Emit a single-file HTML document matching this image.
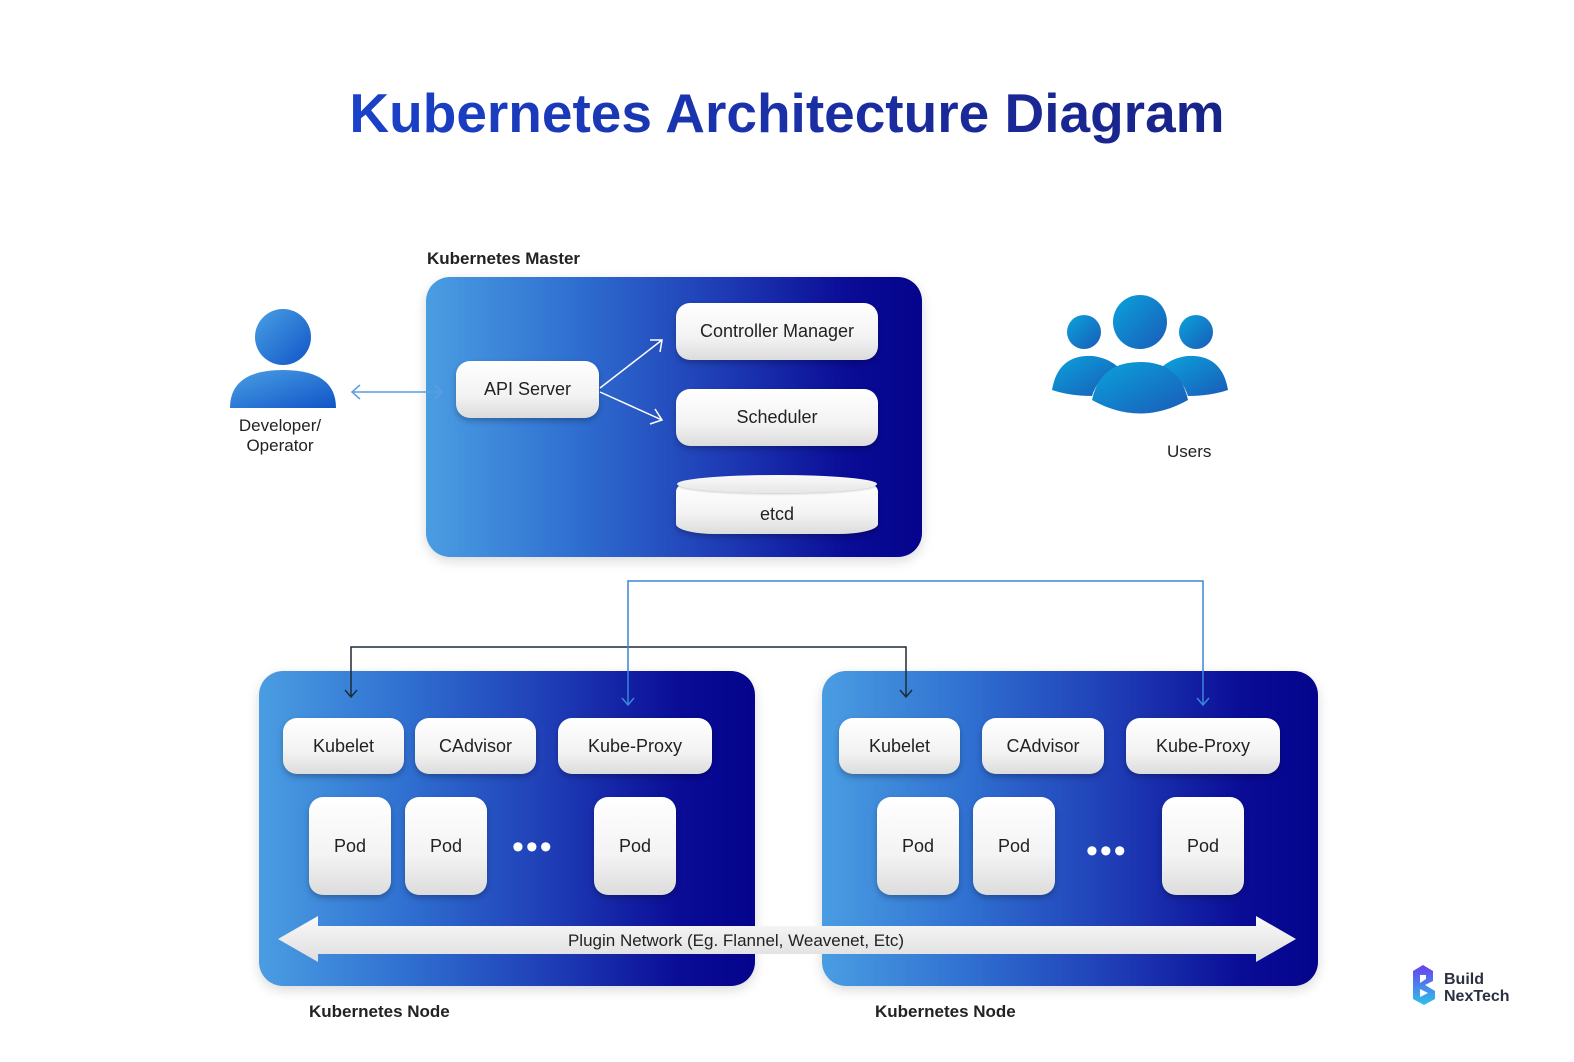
<!DOCTYPE html>
<html><head><meta charset="utf-8"><style>
body{margin:0;width:1574px;height:1062px;background:#fff;position:relative;overflow:hidden;font-family:"Liberation Sans",sans-serif;color:#1f2a37}
.a{position:absolute}
.panel{position:absolute;border-radius:24px;background:linear-gradient(90deg,#4a9de2 0%,#2f6fd0 30%,#1e3bb5 60%,#0a0c96 85%,#04048c 100%);box-shadow:0 4px 12px rgba(0,0,0,.15)}
.btn{position:absolute;border-radius:14px;background:linear-gradient(180deg,#ffffff 0%,#f3f3f3 60%,#dcdcdc 100%);box-shadow:0 3px 6px rgba(0,0,0,.25);display:flex;align-items:center;justify-content:center;font-size:18px;color:#222}
.lbl{position:absolute;font-size:17px;color:#222;font-weight:bold}
.dots{position:absolute;font-size:34px;color:#fff;letter-spacing:2px;line-height:1}
</style></head><body>
<div class="a" style="left:0;width:1574px;top:81px;text-align:center;font-size:55px;font-weight:bold;background:linear-gradient(90deg,#1a4fe6,#1a2a9a 60%,#161a70);-webkit-background-clip:text;background-clip:text;color:transparent">Kubernetes Architecture Diagram</div>

<div class="lbl" style="left:427px;top:249px">Kubernetes Master</div>
<div class="panel" style="left:426px;top:277px;width:496px;height:280px"></div>
<div class="btn" style="left:456px;top:361px;width:143px;height:57px">API Server</div>
<div class="btn" style="left:676px;top:303px;width:202px;height:57px">Controller Manager</div>
<div class="btn" style="left:676px;top:389px;width:202px;height:57px">Scheduler</div>
<div class="btn" style="left:676px;top:484px;width:202px;height:50px;border-radius:8px 8px 40px 40px / 8px 8px 10px 10px;padding-top:10px;box-sizing:border-box">etcd</div>
<div class="a" style="left:677px;top:475px;width:200px;height:18px;border-radius:50%;background:linear-gradient(180deg,#fafafa,#e6e6e6);box-shadow:0 1px 2px rgba(0,0,0,.2)"></div>

<svg class="a" style="left:225px;top:305px" width="120" height="105"><defs><linearGradient id="g1" x1="0" y1="0" x2="1" y2="1"><stop offset="0" stop-color="#4aa0e4"/><stop offset="1" stop-color="#1054c8"/></linearGradient></defs>
<ellipse cx="58" cy="32" rx="28" ry="28" fill="url(#g1)"/><path d="M5 103 Q5 65 58 65 Q111 65 111 103 Z" fill="url(#g1)"/></svg>
<div class="lbl" style="left:200px;top:416px;width:160px;text-align:center;line-height:20px;font-weight:normal">Developer/<br>Operator</div>

<svg class="a" style="left:1048px;top:292px" width="185" height="125"><defs><linearGradient id="g2" x1="0" y1="0" x2="1" y2="1"><stop offset="0" stop-color="#0aa3dc"/><stop offset="1" stop-color="#1a5bb8"/></linearGradient></defs>
<circle cx="36" cy="40" r="17" fill="url(#g2)"/><circle cx="148" cy="40" r="17" fill="url(#g2)"/><circle cx="92" cy="30" r="27" fill="url(#g2)"/>
<path d="M4 98 Q10 62 45 64 Q60 66 70 75 Q50 85 44 104 Q22 104 4 98Z" fill="url(#g2)"/>
<path d="M180 98 Q174 62 139 64 Q124 66 114 75 Q134 85 140 104 Q162 104 180 98Z" fill="url(#g2)"/>
<path d="M44 108 Q52 70 92 70 Q132 70 140 108 Q92 135 44 108Z" fill="url(#g2)"/></svg>
<div class="lbl" style="left:1167px;top:442px;font-weight:normal">Users</div>

<div class="panel" style="left:259px;top:671px;width:496px;height:315px"></div>
<div class="panel" style="left:822px;top:671px;width:496px;height:315px"></div>
<div class="btn" style="left:283px;top:718px;width:121px;height:56px">Kubelet</div>
<div class="btn" style="left:415px;top:718px;width:121px;height:56px">CAdvisor</div>
<div class="btn" style="left:558px;top:718px;width:154px;height:56px">Kube-Proxy</div>
<div class="btn" style="left:309px;top:797px;width:82px;height:98px">Pod</div>
<div class="btn" style="left:405px;top:797px;width:82px;height:98px">Pod</div>
<div class="btn" style="left:594px;top:797px;width:82px;height:98px">Pod</div>
<div class="dots" style="left:512px;top:830px">•••</div>
<div class="btn" style="left:839px;top:718px;width:121px;height:56px">Kubelet</div>
<div class="btn" style="left:982px;top:718px;width:122px;height:56px">CAdvisor</div>
<div class="btn" style="left:1126px;top:718px;width:154px;height:56px">Kube-Proxy</div>
<div class="btn" style="left:877px;top:797px;width:82px;height:98px">Pod</div>
<div class="btn" style="left:973px;top:797px;width:82px;height:98px">Pod</div>
<div class="btn" style="left:1162px;top:797px;width:82px;height:98px">Pod</div>
<div class="dots" style="left:1086px;top:834px">•••</div>

<svg class="a" style="left:0;top:0" width="1574" height="1062">
<defs><linearGradient id="ar" x1="0" y1="0" x2="0" y2="1"><stop offset="0" stop-color="#fafafa"/><stop offset="1" stop-color="#dedede"/></linearGradient></defs>
<polygon points="278,939 318,916 318,926 1256,926 1256,916 1296,939 1256,962 1256,954 318,954 318,962" fill="url(#ar)"/>
<text x="736" y="946" text-anchor="middle" font-family="Liberation Sans" font-size="17" fill="#222">Plugin Network (Eg. Flannel, Weavenet, Etc)</text>
<g fill="none" stroke-width="1.5">
<path d="M352 392 H442 M360 385 L352 392 L360 399 M435 385 L442 392 L435 399" stroke="#5a9ee0"/>
<path d="M600 388 L662 340 M650 340 L662 340 L660 352 M600 392 L662 420 M650 424 L662 420 L655 409" stroke="#fff"/>
<path d="M351 697 V647 H906 V697 M345 690 L351 697 L357 690 M900 690 L906 697 L912 690" stroke="#1f2a37"/>
<path d="M628 705 V581 H1203 V705 M622 698 L628 705 L634 698 M1197 698 L1203 705 L1209 698" stroke="#3b86d8"/>
</g></svg>

<div class="lbl" style="left:309px;top:1002px">Kubernetes Node</div>
<div class="lbl" style="left:875px;top:1002px">Kubernetes Node</div>

<svg class="a" style="left:1410px;top:963px" width="30" height="44"><defs><linearGradient id="lg" x1="0" y1="0" x2="0" y2="1"><stop offset="0" stop-color="#6a3ff0"/><stop offset="1" stop-color="#2cc3ea"/></linearGradient></defs>
<path d="M3 8 L13 2 L23 8 L23 18 L15 22 L25 28 L25 36 L14 42 L3 36 Z M10 12 V20 L16 16 V12 Z M10 26 V34 L18 30 Z" fill="url(#lg)" fill-rule="evenodd"/></svg>
<div class="a" style="left:1444px;top:971px;font-size:16px;line-height:17px;font-weight:bold;color:#2a3140">Build<br>NexTech</div>
</body></html>
